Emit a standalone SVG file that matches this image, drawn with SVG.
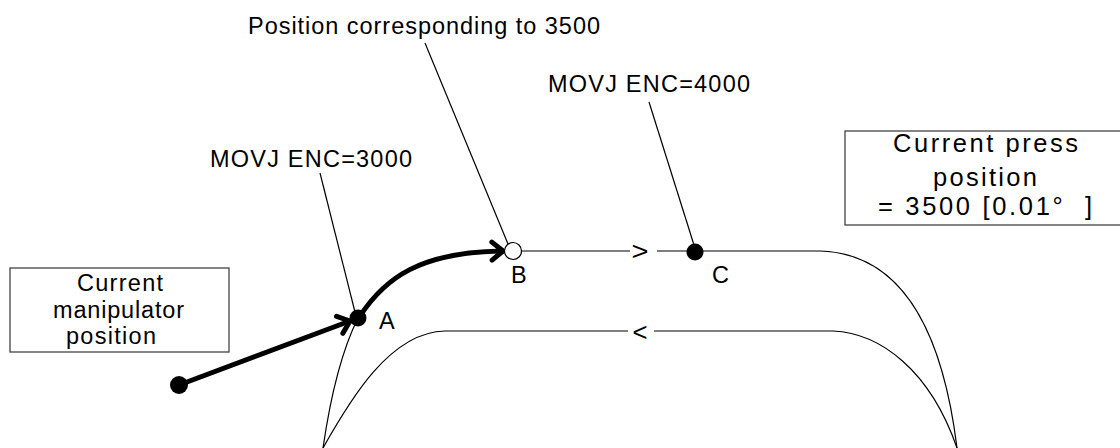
<svg xmlns="http://www.w3.org/2000/svg" width="1120" height="448" viewBox="0 0 1120 448">
<style>
text{font-family:"Liberation Sans",Arial,sans-serif;fill:#000}
.t{font-size:23.5px}
.p{font-size:25.5px}
.g{font-size:26px}
.thin{fill:none;stroke:#000;stroke-width:1.2}
.thick{fill:none;stroke:#000;stroke-width:5;stroke-linecap:round}
.box{fill:#fff;stroke:#444;stroke-width:1.3}
</style>
<defs>
<marker id="chev" markerUnits="userSpaceOnUse" markerWidth="30" markerHeight="30" refX="0" refY="0" viewBox="-16 -15 30 30" orient="auto" overflow="visible">
<path d="M-11,-9 L0,0 L-11,9" fill="none" stroke="#000" stroke-width="5" stroke-linecap="round" stroke-linejoin="round"/>
</marker>
</defs>
<g id="connectors">
<path class="thin" d="M323 448 C330 400 342 350 358 318"/>
<path class="thin" d="M522 251 L630 251 M657 251 L820 251 C890 253 940 310 957 448"/>
<path class="thin" d="M323 448 C350 400 390 332 445 331 L628 331 M654 331 L833 331 C880 333 930 370 957 448"/>
<path class="thin" d="M425 43 L508 244"/>
<path class="thin" d="M649 102 L694 245"/>
<path class="thin" d="M320 173 L356 316"/>
<path class="thick" d="M179 385 L350 321" marker-end="url(#chev)"/>
<path class="thick" d="M360 316 C385 278 420 252 503 251" marker-end="url(#chev)"/>
<text class="g" x="640" y="260" text-anchor="middle" textLength="17" lengthAdjust="spacingAndGlyphs">&gt;</text>
<text class="g" x="640" y="341" text-anchor="middle" textLength="15" lengthAdjust="spacingAndGlyphs">&lt;</text>
</g>
<g id="start"><circle cx="179" cy="385" r="9" fill="#000"/></g>
<g id="A"><circle cx="358" cy="318" r="8.5" fill="#000"/><text class="t" x="379" y="329">A</text></g>
<g id="B"><circle cx="513" cy="251" r="8.5" fill="#fff" stroke="#000" stroke-width="1.2"/><text class="t" x="511" y="283">B</text></g>
<g id="C"><circle cx="695" cy="252" r="8.5" fill="#000"/><text class="t" x="712" y="283">C</text></g>
<g id="label-3500"><text class="t" x="248" y="34" textLength="352" lengthAdjust="spacing">Position corresponding to 3500</text></g>
<g id="label-4000"><text class="t" x="548" y="92" textLength="202" lengthAdjust="spacing">MOVJ ENC=4000</text></g>
<g id="label-3000"><text class="t" x="210" y="167" textLength="202" lengthAdjust="spacing">MOVJ ENC=3000</text></g>
<g id="manipulator">
<rect class="box" x="10" y="268" width="219" height="84"/>
<text class="t" x="120" y="291" text-anchor="middle" textLength="86" lengthAdjust="spacing">Current</text>
<text class="t" x="118.5" y="318" text-anchor="middle" textLength="131" lengthAdjust="spacing">manipulator</text>
<text class="t" x="111" y="344" text-anchor="middle" textLength="90" lengthAdjust="spacing">position</text>
</g>
<g id="press">
<rect class="box" x="845" y="131" width="285" height="94"/>
<text class="p" x="985.5" y="152" text-anchor="middle" textLength="185" lengthAdjust="spacing">Current press</text>
<text class="p" x="985" y="186" text-anchor="middle" textLength="104" lengthAdjust="spacing">position</text>
<text class="p" x="985" y="215" text-anchor="middle" textLength="214" lengthAdjust="spacing">= 3500 [0.01°&#160; ]</text>
</g>
</svg>
